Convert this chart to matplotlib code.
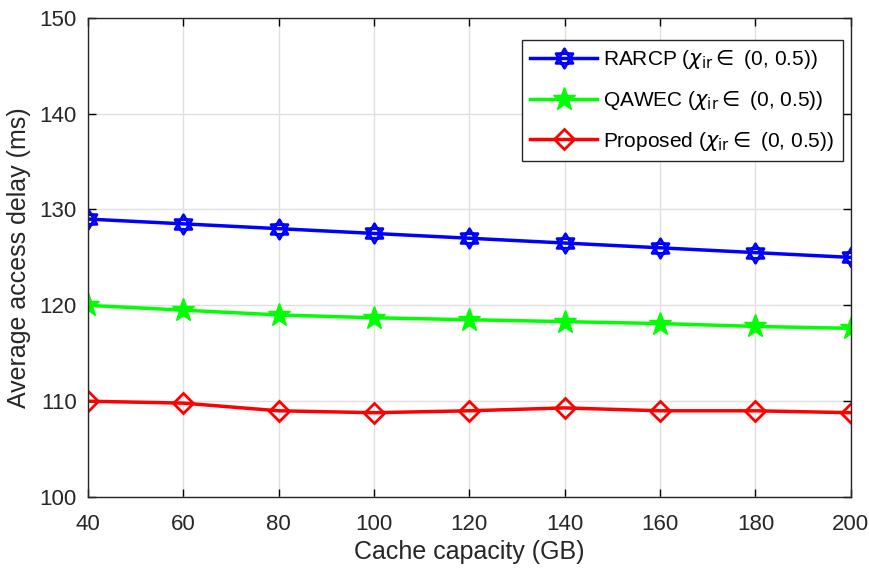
import numpy as np
import matplotlib
matplotlib.use("Agg")
import matplotlib.pyplot as plt
from matplotlib.path import Path

# Dados
capacidade = [40, 60, 80, 100, 120, 140, 160, 180, 200]
rarcp = [129, 128.5, 128, 127.5, 127, 126.5, 126, 125.5, 125]
qawec = [120, 119.5, 119, 118.7, 118.5, 118.3, 118.1, 117.8, 117.6]
proposto = [110, 109.8, 109, 108.8, 109, 109.3, 109, 109, 108.8]

plt.rcParams['font.family'] = ['Liberation Sans', 'DejaVu Sans']
plt.rcParams['mathtext.fontset'] = 'dejavusans'

# Marcador hexagrama (dois triângulos sobrepostos, estilo MATLAB)
ang_cima = np.deg2rad([90, 210, 330])
ang_baixo = np.deg2rad([270, 30, 150])
tri1 = np.column_stack([np.cos(ang_cima), np.sin(ang_cima)])
tri2 = np.column_stack([np.cos(ang_baixo), np.sin(ang_baixo)])
verts = np.vstack([tri1, tri1[:1], tri2, tri2[:1]])
codes = [Path.MOVETO, Path.LINETO, Path.LINETO, Path.CLOSEPOLY] * 2
hexagrama = Path(verts, codes)

fig = plt.figure(figsize=(8.69, 5.72), dpi=100)
ax = fig.add_axes([0.101, 0.131, 0.878, 0.838])

ax.plot(capacidade, rarcp, '-', color='#0000ff', lw=2.5, marker=hexagrama, ms=14,
        mfc='none', mec='#0000ff', mew=2, label=r'RARCP ($\chi_{\rm ir} \in$ (0, 0.5))')
ax.plot(capacidade, qawec, '-', color='#00ff00', lw=2.5, marker='*', ms=17,
        mfc='#00ff00', mec='#00ff00', label=r'QAWEC ($\chi_{\rm ir} \in$ (0, 0.5))')
ax.plot(capacidade, proposto, '-', color='#ff0000', lw=2.5, marker='D', ms=10,
        mfc='none', mec='#ff0000', mew=2, label=r'Proposed ($\chi_{\rm ir} \in$ (0, 0.5))')

ax.set_xlim(40, 200)
ax.set_ylim(100, 150)
ax.set_xticks(capacidade)
ax.set_yticks(np.arange(100, 151, 10))
ax.tick_params(direction='in', top=True, right=True, labelsize=16, length=6, width=1,
               labelcolor='#262626')
ax.tick_params(axis='x', pad=12)
ax.tick_params(axis='y', pad=8)
ax.grid(True, color='#e0e0e0', lw=1, ls='-')
for s in ax.spines.values():
    s.set_color('#262626')
    s.set_linewidth(1)

ax.set_xlabel('Cache capacity (GB)', fontsize=18, color='#262626', labelpad=4)
ax.set_ylabel('Average access delay (ms)', fontsize=18, color='#262626', labelpad=6)

leg = ax.legend(loc='upper right', bbox_to_anchor=(0.9895, 0.954), borderaxespad=0,
                fontsize=15, fancybox=False, framealpha=1, edgecolor='#262626',
                handlelength=3.2, handletextpad=0.3, labelspacing=0.85)
leg.get_frame().set_linewidth(1)

fig.savefig('out.png', dpi=100)
